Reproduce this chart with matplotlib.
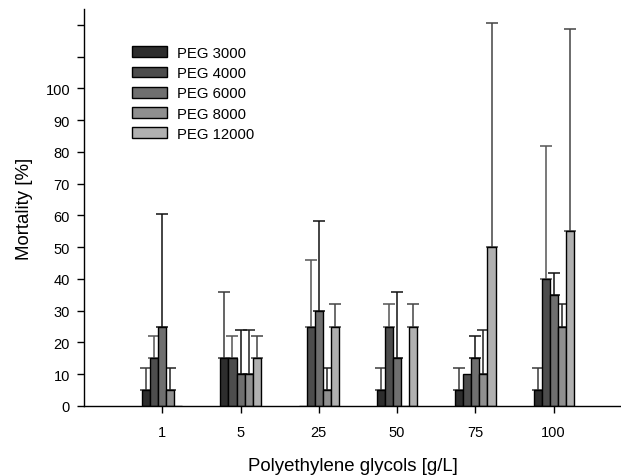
import numpy as np
import matplotlib
matplotlib.use('Agg')
import matplotlib.pyplot as plt

plt.rcParams['font.family'] = ['Liberation Sans', 'DejaVu Sans']

concentrations = ['1', '5', '25', '50', '75', '100']
series = ['PEG 3000', 'PEG 4000', 'PEG 6000', 'PEG 8000', 'PEG 12000']

# mean mortality (%) per PEG and concentration
peg3000 = [5, 15, 0, 5, 5, 5]
peg4000 = [15, 15, 25, 25, 10, 40]
peg6000 = [25, 10, 30, 15, 15, 35]
peg8000 = [5, 10, 5, 0, 10, 25]
peg12000 = [0, 15, 25, 25, 50, 55]

# standard deviations (upper error only, 0 = none drawn)
sd3000 = [7, 21, 0, 7, 7, 7]
sd4000 = [7, 7, 21, 7, 0, 42]
sd6000 = [35.3, 14, 28.2, 21, 7, 7]
sd8000 = [7, 14, 7, 0, 14, 7]
sd12000 = [0, 7, 7, 7, 70.7, 63.7]

means = [peg3000, peg4000, peg6000, peg8000, peg12000]
sds = [sd3000, sd4000, sd6000, sd8000, sd12000]
colors = ['#2d2d2d', '#4d4d4d', '#6f6f6f', '#8f8f8f', '#b0b0b0']
err_colors = ['#3a3a3a', '#555555', '#111111', '#222222', '#444444']

fig = plt.figure(figsize=(6.21, 4.77), dpi=100)
ax = fig.add_axes([84 / 621, 70 / 477, 1 - 84 / 621, 397 / 477])

x = np.arange(len(concentrations))
width = 0.103
for i, (m, s) in enumerate(zip(means, sds)):
    pos = x + (i - 2) * width
    m = np.array(m, dtype=float)
    s = np.array(s, dtype=float)
    ax.bar(pos, m, width, color=colors[i], edgecolor='black', linewidth=1,
           label=series[i], zorder=2)
    keep = s > 0
    ax.errorbar(pos[keep], m[keep], yerr=[np.zeros(keep.sum()), s[keep]],
                fmt='none', ecolor=err_colors[i], elinewidth=1.1,
                capsize=4, capthick=1.1, zorder=1)

ax.set_xlim(-1.0, 5.86)
ax.set_ylim(0, 125)
ax.set_xticks(x)
ax.set_xticklabels(concentrations)
ax.set_yticks(np.arange(0, 121, 10))
ax.set_yticklabels([str(v) if v <= 100 else '' for v in range(0, 121, 10)])
ax.tick_params(axis='both', direction='out', length=5, width=1,
               labelsize=10.5, pad=5)
ax.tick_params(axis='x', pad=9)

for side in ['top', 'right']:
    ax.spines[side].set_visible(False)
for side in ['left', 'bottom']:
    ax.spines[side].set_linewidth(1)

ax.set_xlabel('Polyethylene glycols [g/L]', fontsize=13.4, labelpad=13)
ax.set_ylabel('Mortality [%]', fontsize=13.4, labelpad=9)

ax.legend(loc='upper left', bbox_to_anchor=(0.09, 0.907), frameon=False,
          fontsize=10.7, handlelength=2.3, handleheight=0.75,
          labelspacing=0.42, handletextpad=0.7, borderpad=0,
          borderaxespad=0)

fig.savefig('out.png', dpi=100)
